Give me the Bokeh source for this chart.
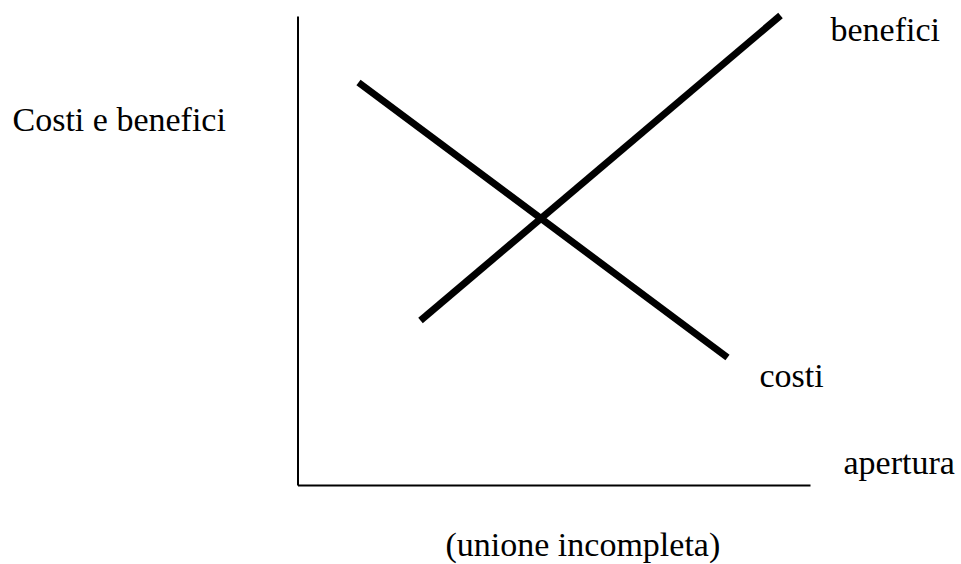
from bokeh.plotting import figure
from bokeh.models import Range1d
from bokeh.embed import file_html
from bokeh.resources import INLINE
from bokeh.core.properties import value

# Conceptual diagram data (arbitrary units)
axis_v_x = [0.0, 0.0]
axis_v_y = [0.0, 4.69]
axis_h_x = [0.0, 5.125]
axis_h_y = [0.0, 0.0]

costi_x = [0.605, 4.295]
costi_y = [4.03, 1.28]
benefici_x = [1.225, 4.825]
benefici_y = [1.65, 4.70]

label_texts = ["Costi e benefici", "benefici", "costi", "apertura", "(unione incompleta)"]
label_x = [-2.855, 5.325, 4.615, 5.455, 1.475]
label_y = [3.66, 4.56, 1.10, 0.23, -0.59]

p = figure(width=961, height=564, output_backend="svg", toolbar_location=None,
           x_range=Range1d(-2.975, 6.635), y_range=Range1d(-0.79, 4.85),
           min_border=0, min_border_left=0, min_border_right=0,
           min_border_top=0, min_border_bottom=0)
p.axis.visible = False
p.xgrid.visible = False
p.ygrid.visible = False
p.outline_line_color = None
p.background_fill_color = "white"
p.border_fill_color = "white"

p.line(axis_v_x, axis_v_y, line_color="black", line_width=2)
p.line(axis_h_x, axis_h_y, line_color="black", line_width=2)
p.line(costi_x, costi_y, line_color="black", line_width=7, line_cap="butt")
p.line(benefici_x, benefici_y, line_color="black", line_width=7, line_cap="butt")

p.text(x=label_x, y=label_y, text=label_texts,
       text_font=value("Liberation Serif"), text_font_size=value("34px"),
       text_color="black", text_align="left", text_baseline="alphabetic")

open("out.html", "w").write(file_html(p, INLINE))
